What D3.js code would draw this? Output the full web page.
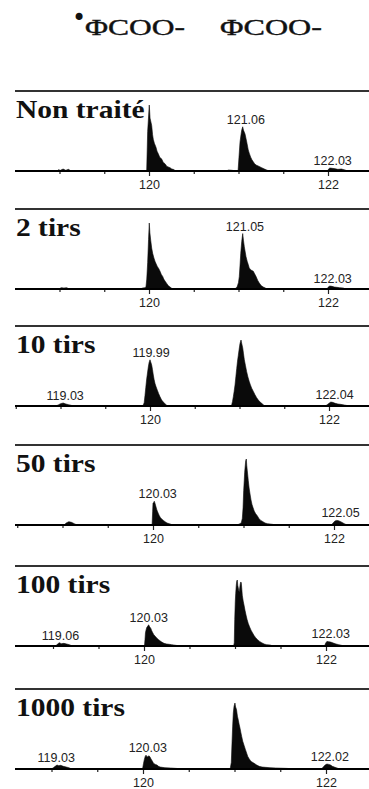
<!DOCTYPE html>
<html>
<head>
<meta charset="utf-8">
<script src="https://cdn.jsdelivr.net/npm/d3@7/dist/d3.min.js"></script>
<style>
  html, body { margin: 0; padding: 0; background: #fff; }
  svg { display: block; }
</style>
</head>
<body>
<svg id="chart" width="369" height="789"></svg>
<script>
// ---------------- DATA ----------------
const titleLeft = "ΦCOO-";
const titleRight = "ΦCOO-";
const radicalMark = "•";

const panelLabels = ["Non traité", "2 tirs", "10 tirs", "50 tirs", "100 tirs", "1000 tirs"];

const mzTicks = [118.5, 119, 119.5, 120, 120.5, 121, 121.5, 122, 122.5];
const mzTickLabels = [120, 122];

// spectra: [m/z, relative intensity %]
const spectrumNonTraite = [
  [118.97,0],[118.99,2],[119.01,1],[119.04,3],[119.07,1],[119.10,2.5],[119.13,0],
  [119.974,0],[119.985,60],[120.003,100],[120.012,80],[120.030,69],[120.040,55],[120.048,48],[120.060,42],
  [120.078,36],[120.09,30],[120.104,26],[120.12,21],[120.142,18],[120.16,13],[120.179,11],[120.20,7],
  [120.235,5],[120.255,3],[120.272,2.5],[120.30,0],
  [120.86,0],[120.89,1.5],[120.93,1],[120.96,0],
  [120.995,0],[121.005,20],[121.017,44],[121.028,55],[121.036,62],[121.047,67],[121.055,62],[121.073,56],
  [121.092,44],[121.109,32],[121.12,27],[121.136,21],[121.15,17],[121.165,14],[121.18,11],[121.197,9],
  [121.23,7],[121.259,5],[121.29,3],[121.315,1.5],[121.34,0],
  [121.99,0],[122.00,2],[122.02,4.5],[122.05,4],[122.08,3.5],[122.11,2.5],[122.15,3],[122.19,1.5],[122.22,0]
];
const spectrum2Tirs = [
  [118.99,0],[119.02,2],[119.05,1.5],[119.08,2],[119.11,0],
  [119.90,0],[119.93,1.5],[119.955,2],
  [119.966,3],[119.975,15],[119.985,40],[119.995,75],[120.003,100],[120.01,85],[120.019,74],[120.03,62],
  [120.041,54],[120.055,47],[120.067,42],[120.08,38],[120.093,34],[120.108,31],[120.123,27],[120.138,22],
  [120.153,19],[120.165,15],[120.179,12],[120.20,8],[120.216,5],[120.235,3],[120.254,1],[120.27,0],
  [120.96,0],[120.975,2],[120.987,4],[121.0,10],[121.009,19],[121.018,38],[121.025,54],[121.036,72],
  [121.047,84],[121.055,74],[121.065,64],[121.075,56],[121.084,49],[121.097,42],[121.109,37],[121.12,32],
  [121.136,29],[121.15,28],[121.165,27],[121.18,23],[121.196,19],[121.215,13],[121.232,9],[121.255,5],
  [121.277,3],[121.30,1.5],[121.32,0],
  [121.99,0],[122.0,2.5],[122.02,4.5],[122.045,4],[122.07,3],[122.10,2.5],[122.13,2],[122.17,1.5],[122.20,0]
];
const spectrum10Tirs = [
  [118.95,0],[118.98,2],[119.0,3.5],[119.03,4.5],[119.06,3],[119.09,2],[119.12,1],[119.14,0],
  [119.92,0],[119.935,5],[119.944,16],[119.953,28],[119.963,41],[119.972,50],[119.981,59],[119.99,66],
  [120.0,70],[120.01,66],[120.019,62],[120.028,55],[120.037,47],[120.046,40],[120.056,34],[120.068,29],
  [120.082,24],[120.096,19],[120.112,14],[120.13,9],[120.149,6],[120.17,3],[120.187,1],[120.21,0],
  [120.905,0],[120.913,2],[120.922,7],[120.931,14],[120.94,22],[120.95,32],[120.96,45],[120.969,57],
  [120.978,68],[120.987,77],[120.996,86],[121.006,95],[121.017,100],[121.026,94],[121.036,88],[121.045,79],
  [121.054,70],[121.067,61],[121.08,52],[121.094,44],[121.109,37],[121.122,32],[121.136,27],[121.155,22],
  [121.173,17],[121.19,13],[121.21,9],[121.23,6],[121.248,4],[121.265,2],[121.285,0],
  [121.96,0],[121.98,2],[122.0,4],[122.02,6],[122.04,5.5],[122.07,4],[122.10,3],[122.13,2.5],[122.17,1.5],
  [122.21,0.5],[122.23,0]
];
const spectrum50Tirs = [
  [119.02,0],[119.04,3],[119.07,5],[119.10,4],[119.13,2],[119.16,0],
  [119.99,0],[119.996,20],[120.0,33],[120.007,34],[120.014,36],[120.022,33],[120.03,29],[120.04,24],
  [120.048,21],[120.06,17],[120.07,14],[120.083,11],[120.096,9],[120.115,7],[120.133,5],[120.155,3],
  [120.18,2],[120.20,1],[120.224,0],
  [120.93,0],[120.96,2],[120.975,3],[120.987,10],[120.995,26],[121.002,52],[121.008,67],[121.013,80],
  [121.018,88],[121.024,97],[121.031,100],[121.036,90],[121.042,82],[121.048,74],[121.053,67],[121.062,56],
  [121.072,47],[121.083,38],[121.094,31],[121.106,26],[121.119,21],[121.135,17],[121.152,14],[121.17,10],
  [121.19,7],[121.215,5],[121.238,3],[121.265,2],[121.293,1.5],[121.32,1],[121.348,0],
  [121.97,0],[121.99,3],[122.01,6],[122.03,7],[122.05,6.5],[122.075,5],[122.10,3],[122.12,1.5],[122.145,0]
];
const spectrum100Tirs = [
  [119.03,0],[119.05,3],[119.07,5],[119.09,3.5],[119.12,4],[119.15,3],[119.18,2],[119.21,0],
  [120.005,0],[120.011,10],[120.016,20],[120.022,24],[120.03,28],[120.036,29],[120.044,31],[120.052,32],
  [120.062,29],[120.074,27],[120.085,23],[120.096,20],[120.108,17],[120.121,15],[120.14,12],[120.157,10],
  [120.175,8],[120.195,6],[120.22,4],[120.249,3],[120.28,2.5],[120.304,2],[120.35,1],[120.396,0],
  [120.985,0],[120.992,5],[120.997,40],[121.003,67],[121.008,80],[121.014,92],[121.019,98],[121.025,100],
  [121.03,92],[121.036,88],[121.041,84],[121.047,82],[121.052,88],[121.058,94],[121.063,97],[121.069,96],
  [121.074,88],[121.080,77],[121.09,68],[121.099,62],[121.11,54],[121.121,47],[121.133,40],[121.146,34],
  [121.16,29],[121.176,24],[121.192,20],[121.209,16],[121.225,13],[121.245,10],[121.27,7],[121.293,5],
  [121.32,3],[121.348,2],[121.385,1.5],[121.421,0],
  [121.985,0],[121.995,4],[122.01,7],[122.03,6.5],[122.05,6],[122.08,4.5],[122.11,3],[122.14,2],[122.17,1],[122.19,0]
];
const spectrum1000Tirs = [
  [119.0,0],[119.02,2],[119.04,4],[119.06,6],[119.08,5],[119.10,5.5],[119.13,4],[119.16,3],[119.19,2],[119.22,0],
  [119.995,0],[120.005,8],[120.014,14],[120.024,19],[120.033,21],[120.044,18],[120.055,19],[120.066,20],
  [120.077,18],[120.088,15],[120.098,13],[120.11,10],[120.12,8],[120.135,7],[120.153,6],[120.17,4],
  [120.186,3],[120.21,2.5],[120.24,2],[120.30,1.5],[120.35,1],[120.40,0.5],[120.459,0],
  [120.94,0],[120.955,2],[120.965,10],[120.973,40],[120.98,65],[120.987,85],[120.995,95],[121.005,100],
  [121.012,94],[121.022,90],[121.032,80],[121.042,74],[121.05,68],[121.06,62],[121.07,55],[121.079,49],
  [121.09,42],[121.104,36],[121.118,30],[121.133,24],[121.145,19],[121.158,16],[121.172,13],[121.187,11],
  [121.21,9],[121.243,6],[121.27,4],[121.301,3],[121.34,2.5],[121.388,2],[121.45,1.5],[121.552,1],
  [121.63,0.5],[121.716,0],
  [121.95,0],[121.97,3],[121.99,6],[122.01,7.5],[122.03,7],[122.05,6],[122.07,4],[122.09,3],[122.12,1.5],[122.15,0]
];
const spectra = [spectrumNonTraite, spectrum2Tirs, spectrum10Tirs, spectrum50Tirs, spectrum100Tirs, spectrum1000Tirs];

// annotated peak m/z per panel
const peakLabelsNonTraite = [121.06, 122.03];
const peakLabels2Tirs = [121.05, 122.03];
const peakLabels10Tirs = [119.03, 119.99, 122.04];
const peakLabels50Tirs = [120.03, 122.05];
const peakLabels100Tirs = [119.06, 120.03, 122.03];
const peakLabels1000Tirs = [119.03, 120.03, 122.02];
const peakLabels = [peakLabelsNonTraite, peakLabels2Tirs, peakLabels10Tirs, peakLabels50Tirs, peakLabels100Tirs, peakLabels1000Tirs];

// ---------------- LAYOUT ----------------
const W = 369;
const lineLeft = 15;
const axisYs = [171, 289, 406, 525, 646, 769];
// pixel positions of m/z 120 and 122 in each panel (scanned figure is slightly misaligned)
const anchorPx = [[149, 328], [149, 328], [150, 329], [153, 334], [144, 326], [143, 326]];
const peakHeight = 66;

const svg = d3.select("#chart");
svg.append("rect").attr("width", W).attr("height", 789).attr("fill", "#fff");

// Title
const title = svg.append("g").attr("font-family", "'Liberation Serif', 'Times New Roman', serif")
  .attr("fill", "#111");
title.append("text").attr("x", 79).attr("y", 25.5).attr("text-anchor", "middle")
  .attr("font-family", "'DejaVu Sans', sans-serif")
  .attr("font-size", 24).text(radicalMark);
title.append("text").attr("x", 85).attr("y", 35).attr("font-size", 24)
  .attr("stroke", "#111").attr("stroke-width", 0.4)
  .attr("textLength", 100).attr("lengthAdjust", "spacingAndGlyphs").text(titleLeft);
title.append("text").attr("x", 220).attr("y", 35).attr("font-size", 24)
  .attr("stroke", "#111").attr("stroke-width", 0.4)
  .attr("textLength", 102).attr("lengthAdjust", "spacingAndGlyphs").text(titleRight);

const fmt = d3.format(".2f");

panelLabels.forEach((label, i) => {
  const axisY = axisYs[i];
  const [p120, p122] = anchorPx[i];
  const x = d3.scaleLinear().domain([120, 122]).range([p120, p122]);
  const y = d3.scaleLinear().domain([0, 100]).range([axisY, axisY - peakHeight]);
  const g = svg.append("g");

  // top separator line
  g.append("line").attr("x1", lineLeft).attr("x2", W).attr("y1", axisY - 80).attr("y2", axisY - 80)
    .attr("stroke", "#333").attr("stroke-width", 2);

  // spectrum as filled area
  const data = spectra[i];
  const area = d3.area().x(d => x(d[0])).y0(axisY).y1(d => y(d[1])).curve(d3.curveLinear);
  g.append("path").datum(data).attr("d", area).attr("fill", "#0a0a0a")
    .attr("stroke", "#0a0a0a").attr("stroke-width", 0.6);

  // axis
  const visibleTicks = mzTicks.filter(t => x(t) >= lineLeft && x(t) <= W);
  const axis = d3.axisBottom(x).tickValues(visibleTicks).tickSize(3).tickPadding(6)
    .tickFormat(d => mzTickLabels.includes(d) ? d3.format("d")(d) : "");
  const ag = g.append("g").attr("transform", `translate(0,${axisY})`).call(axis);
  ag.select(".domain").remove();
  ag.selectAll(".tick line").attr("stroke", "#222").attr("stroke-width", 1.2)
    .attr("y1", -1).attr("y2", d => mzTickLabels.includes(d) ? 5 : 3);
  ag.selectAll(".tick text").attr("font-family", "'Liberation Sans', Arial, sans-serif")
    .attr("font-size", 12.5).attr("fill", "#222");
  g.append("line").attr("x1", lineLeft).attr("x2", W).attr("y1", axisY).attr("y2", axisY)
    .attr("stroke", "#000").attr("stroke-width", 2);

  // peak labels
  peakLabels[i].forEach(v => {
    const near = data.filter(d => Math.abs(d[0] - v) <= 0.12);
    const top = d3.max(near, d => d[1]) || 0;
    g.append("text").attr("x", x(v) + 2).attr("y", y(top) - 3).attr("text-anchor", "middle")
      .attr("font-family", "'Liberation Sans', Arial, sans-serif").attr("font-size", 12.5)
      .attr("fill", "#222").text(fmt(v));
  });

  // panel label
  g.append("text").attr("transform", `translate(16,${axisY - 53}) scale(1.18,1)`)
    .attr("font-family", "'Liberation Serif', 'Times New Roman', serif").attr("font-weight", "bold")
    .attr("font-size", 25).attr("fill", "#111").text(label);
});
</script>
</body>
</html>
